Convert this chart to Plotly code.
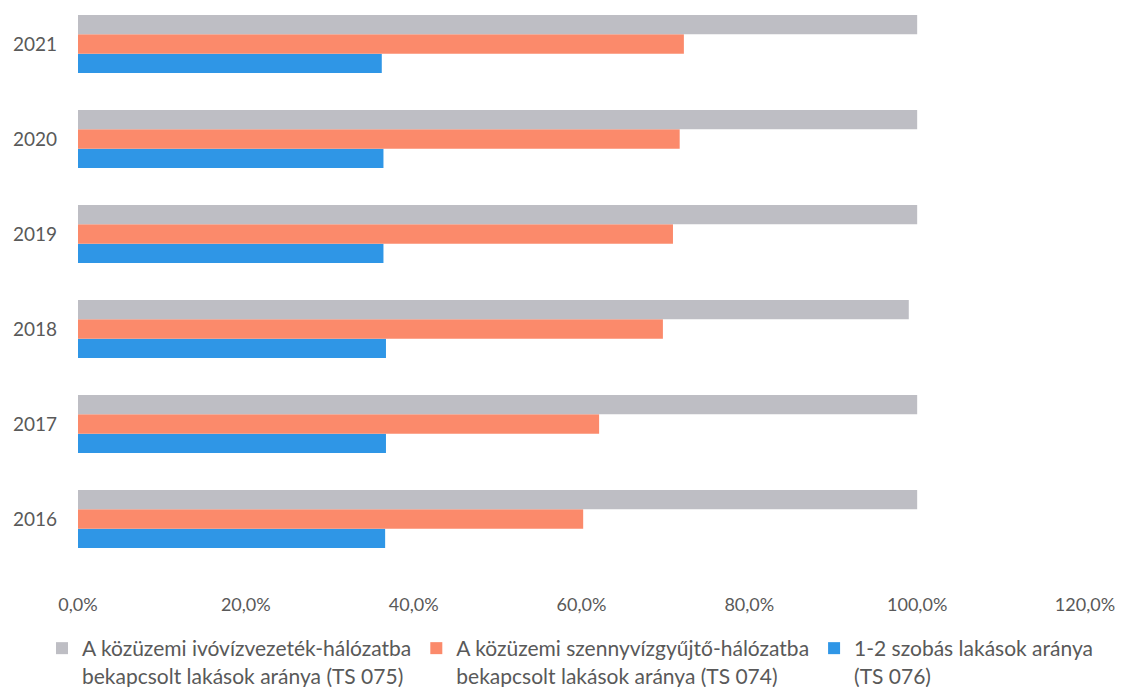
import plotly.graph_objects as go

years = ["2016", "2017", "2018", "2019", "2020", "2021"]
water = [1.000, 1.000, 0.990, 1.000, 1.000, 1.000]
sewer = [0.602, 0.621, 0.697, 0.709, 0.717, 0.722]
rooms = [0.366, 0.367, 0.367, 0.364, 0.364, 0.362]

names = [
    "A közüzemi ivóvízvezeték-hálózatba<br>bekapcsolt lakások aránya (TS 075)",
    "A közüzemi szennyvízgyűjtő-hálózatba<br>bekapcsolt lakások aránya (TS 074)",
    "1-2 szobás lakások aránya<br>(TS 076)",
]
colors = ["#BEBEC4", "#FB8A6B", "#2F96E6"]
tick_vals = [0, 0.2, 0.4, 0.6, 0.8, 1.0, 1.2]

W, H = 1115, 679
L, R, T, B = 70, 38, 0, 120
plot_h = H - T - B

fig = go.Figure()
series = [(rooms, 2), (sewer, 1), (water, 0)]
for vals, i in series:
    fig.add_trace(go.Bar(
        y=years, x=vals, orientation="h", name=names[i],
        marker=dict(color=colors[i], line=dict(width=0)),
        legendrank=i + 1,
    ))

fig.update_layout(
    width=W, height=H,
    barmode="group", bargap=0.39, bargroupgap=0,
    plot_bgcolor="white", paper_bgcolor="white",
    separators=", ",
    font=dict(family="Lato", color="#595959", size=17),
    margin=dict(l=L, r=R, t=T, b=B, autoexpand=False),
    xaxis=dict(range=[0, 1.2], tickvals=tick_vals, tickformat=".1%",
               showgrid=False, zeroline=False, showline=False, automargin=False,
               ticklabelstandoff=25, ticklabeloverflow="allow",
               tickfont=dict(size=18)),
    yaxis=dict(type="category", range=[-0.505, 5.379], showgrid=False,
               zeroline=False, showline=False, ticklabelstandoff=20,
               ticklabeloverflow="allow",
               automargin=False, tickfont=dict(size=19)),
    showlegend=True,
    legend=dict(orientation="h", xref="paper", yref="paper",
                x=(34 - L) / (W - L - R), xanchor="left",
                y=(plot_h - 620) / plot_h, yanchor="top",
                valign="top", font=dict(size=21), traceorder="normal",
                itemwidth=30),
)

fig.write_html("out.html")
